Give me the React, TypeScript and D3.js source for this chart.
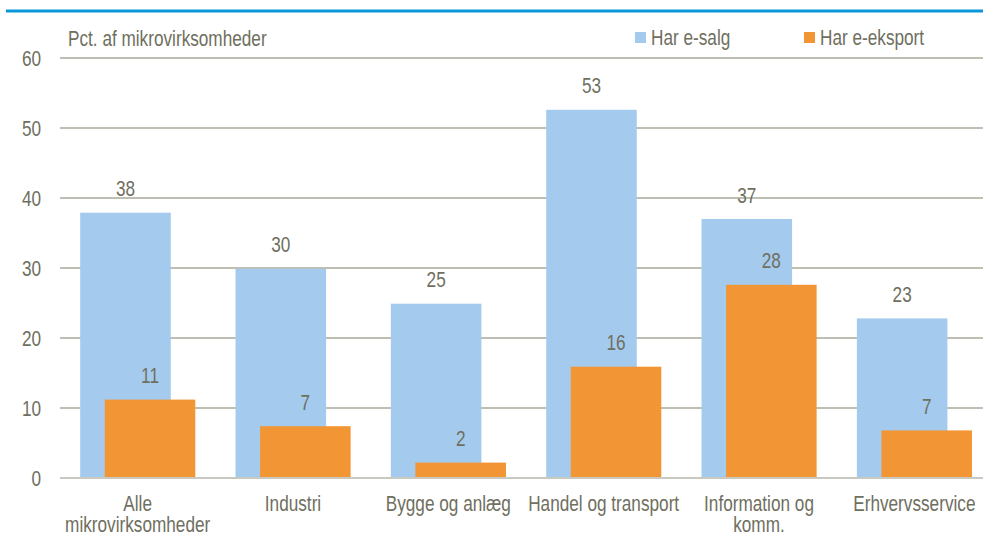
import React from "react";
import * as d3 from "d3";

const categories = [
  "Alle\nmikrovirksomheder",
  "Industri",
  "Bygge og anlæg",
  "Handel og transport",
  "Information og\nkomm.",
  "Erhvervsservice",
];
const eSalg = [37.9, 29.9, 24.9, 52.6, 37.0, 22.8];
const eEksport = [11.2, 7.4, 2.2, 15.9, 27.6, 6.8];
const yTicks = [0, 10, 20, 30, 40, 50, 60];
const seriesNames = ["Har e-salg", "Har e-eksport"];
const colors = ["#a4cbee", "#f29534"];

const W = 983;
const H = 536;
const TEXT = "#6f6f60";
const FONT = "'Liberation Sans', Arial, sans-serif";
const FS = 21.5;
const SX = 0.8;

function T({ x, y, children, anchor = "start", fill = TEXT }: any) {
  return (
    <text
      transform={`translate(${x},${y}) scale(${SX},1)`}
      textAnchor={anchor}
      fontFamily={FONT}
      fontSize={FS}
      fill={fill}
    >
      {children}
    </text>
  );
}

export default function App() {
  const x = d3.scaleBand<string>().domain(categories).range([60, 992]).paddingInner(0).paddingOuter(0);
  const y = d3.scaleLinear().domain([0, 60]).range([478, 58]);
  const step = x.step();
  const barW = 0.583 * step;
  const groupOff = 0.13 * step;
  const oOff = 0.158 * step;

  return (
    <svg
      width={W}
      height={H}
      style={{ position: "absolute", left: 0, top: 0, display: "block", background: "#fff" }}
    >
      <rect x={0} y={0} width={W} height={H} fill="#fff" />
      <line x1={6} x2={W} y1={11} y2={11} stroke="#0a97d9" strokeWidth={3} />

      {yTicks.map((t) => (
        <g key={t}>
          {t !== 0 && (
            <line x1={60} x2={W} y1={y(t)} y2={y(t)} stroke="#a9a899" strokeWidth={1.5} />
          )}
          <T x={41} y={y(t) + 7.5} anchor="end">
            {t}
          </T>
        </g>
      ))}

      {categories.map((c, i) => {
        const bx = (x(c) as number) + groupOff;
        const ox = bx + oOff;
        return (
          <g key={c}>
            <rect x={bx} y={y(eSalg[i])} width={barW} height={y(0) - y(eSalg[i])} fill={colors[0]} />
            <rect x={ox} y={y(eEksport[i])} width={barW} height={y(0) - y(eEksport[i])} fill={colors[1]} />
          </g>
        );
      })}
      {categories.map((c, i) => {
        const bx = (x(c) as number) + groupOff;
        const ox = bx + oOff;
        return (
          <g key={c + "l"}>
            <T x={bx + barW / 2} y={y(eSalg[i]) - 16.5} anchor="middle">
              {Math.round(eSalg[i])}
            </T>
            <T x={ox + barW / 2} y={y(eEksport[i]) - 16.5} anchor="middle">
              {Math.round(eEksport[i])}
            </T>
            {c.split("\n").map((line, k) => (
              <T key={k} x={(x(c) as number) + step / 2} y={511 + k * 20.5} anchor="middle">
                {line}
              </T>
            ))}
          </g>
        );
      })}

      <line x1={60} x2={W} y1={y(0)} y2={y(0)} stroke="#c9c9c1" strokeWidth={2} />

      <T x={68} y={46}>Pct. af mikrovirksomheder</T>

      {seriesNames.map((s, i) => {
        const lx = [635, 804][i];
        return (
          <g key={s}>
            <rect x={lx} y={32} width={11} height={11} fill={colors[i]} />
            <T x={lx + 16} y={45}>
              {s}
            </T>
          </g>
        );
      })}
    </svg>
  );
}
